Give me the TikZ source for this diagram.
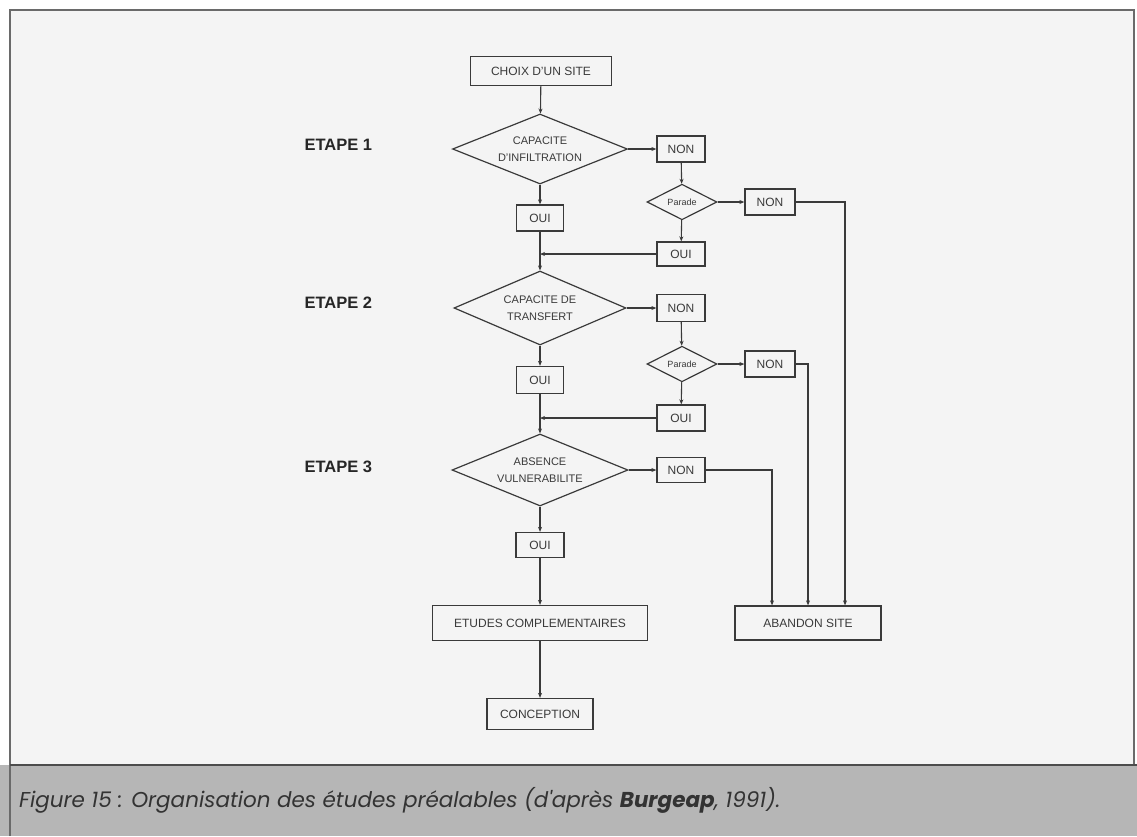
\documentclass[tikz,border=0pt]{standalone}
\usepackage{fontspec}
\setmainfont{Liberation Sans}
\newfontfamily\capfont{Poppins}
\usetikzlibrary{shapes.geometric,arrows.meta}
\definecolor{ink}{HTML}{3A3A3A}
\definecolor{panel}{HTML}{F4F4F4}
\definecolor{band}{HTML}{B6B6B6}
\definecolor{framec}{HTML}{6A6A6A}
\tikzset{
  every node/.style={text=ink},
  box/.style={draw=ink, line width=1.3pt, rectangle, inner sep=0pt, font=\fontsize{12}{14}\selectfont, align=center},
  choice/.style={draw=ink, line width=1.2pt, diamond, inner sep=0pt, aspect=2.5, font=\fontsize{11}{17}\selectfont, align=center},
  small choice/.style={draw=ink, line width=1.2pt, diamond, inner sep=0pt, font=\fontsize{9}{10}\selectfont},
  flow/.style={draw=ink, line width=1.1pt, -{Stealth[length=5pt,width=4pt]}},
  plain/.style={draw=ink, line width=1.1pt},
  stage/.style={font=\bfseries\fontsize{16.5}{18}\selectfont, anchor=west, text=black!85}
}
\begin{document}
\begin{tikzpicture}[x=1pt,y=-1pt]
\useasboundingbox (0,0) rectangle (1137,836);
\fill[white] (0,0) rectangle (1137,836);
\fill[panel] (10,10) rectangle (1134,765);
\fill[band] (0,765) rectangle (1137,836);
\draw[framec, line width=1.8pt] (10,836) -- (10,10) -- (1134,10) -- (1134,765);
\draw[black!70, line width=1.8pt] (10,765) -- (1137,765);

% stages
\node[stage] (e1) at (301,145) {ETAPE 1};
\node[stage] (e2) at (301,303) {ETAPE 2};
\node[stage] (e3) at (301,467) {ETAPE 3};

% main column
\node[box, minimum width=141, minimum height=29] (choix) at (541,71) {CHOIX D'UN SITE};
\node[choice, minimum width=175, minimum height=70] (d1) at (540,149) {CAPACITE\\D'INFILTRATION};
\node[box, minimum width=47, minimum height=26] (oui1) at (540,218) {OUI};
\node[choice, minimum width=172, minimum height=74] (d2) at (540,308) {CAPACITE DE\\TRANSFERT};
\node[box, minimum width=47, minimum height=27] (oui2) at (540,380) {OUI};
\node[choice, minimum width=176, minimum height=72] (d3) at (540,470) {ABSENCE\\VULNERABILITE};
\node[box, minimum width=48, minimum height=25] (oui3) at (540,545) {OUI};
\node[box, minimum width=215, minimum height=35] (etudes) at (540,623) {ETUDES COMPLEMENTAIRES};
\node[box, minimum width=106, minimum height=31] (concept) at (540,714) {CONCEPTION};

% right branches
\node[box, minimum width=48, minimum height=26] (non1) at (681,149) {NON};
\node[small choice, minimum width=70, minimum height=34] (p1) at (682,202) {Parade};
\node[box, minimum width=50, minimum height=26] (non1b) at (770,202) {NON};
\node[box, minimum width=48, minimum height=24] (oui1r) at (681,254) {OUI};

\node[box, minimum width=48, minimum height=27] (non2) at (681,308) {NON};
\node[small choice, minimum width=70, minimum height=34] (p2) at (682,364) {Parade};
\node[box, minimum width=50, minimum height=26] (non2b) at (770,364) {NON};
\node[box, minimum width=48, minimum height=26] (oui2r) at (681,418) {OUI};

\node[box, minimum width=48, minimum height=25] (non3) at (681,470) {NON};
\node[box, minimum width=146, minimum height=34] (aband) at (808,623) {ABANDON SITE};

\coordinate (j1) at (oui1 |- oui1r);
\coordinate (j2) at (oui2 |- oui2r);

% connectors - main column
\draw[flow] (choix) -- (d1);
\draw[flow] (d1) -- (oui1);
\draw[plain] (oui1) -- (j1);
\draw[flow] (j1) -- (d2);
\draw[flow] (d2) -- (oui2);
\draw[plain] (oui2) -- (j2);
\draw[flow] (j2) -- (d3);
\draw[flow] (d3) -- (oui3);
\draw[flow] (oui3) -- (etudes);
\draw[flow] (etudes) -- (concept);

% stage 1 branch
\draw[flow] (d1) -- (non1);
\draw[flow] (non1) -- (p1);
\draw[flow] (p1) -- (non1b);
\draw[flow] (p1) -- (oui1r);
\draw[flow] (oui1r) -- (j1);
\draw[flow] (non1b.east) -| ([xshift=37pt]aband.north);

% stage 2 branch
\draw[flow] (d2) -- (non2);
\draw[flow] (non2) -- (p2);
\draw[flow] (p2) -- (non2b);
\draw[flow] (p2) -- (oui2r);
\draw[flow] (oui2r) -- (j2);
\draw[flow] (non2b.east) -| (aband.north);

% stage 3 branch
\draw[flow] (d3) -- (non3);
\draw[flow] (non3.east) -| ([xshift=-36pt]aband.north);

% caption
\node[anchor=west, inner sep=0pt, text=black!80, font=\capfont\itshape\fontsize{21.5}{24}\selectfont] (cap) at (19,800)
  {Figure 15 : Organisation des études préalables (d'après \textbf{Burgeap}, 1991).};
\end{tikzpicture}
\end{document}
